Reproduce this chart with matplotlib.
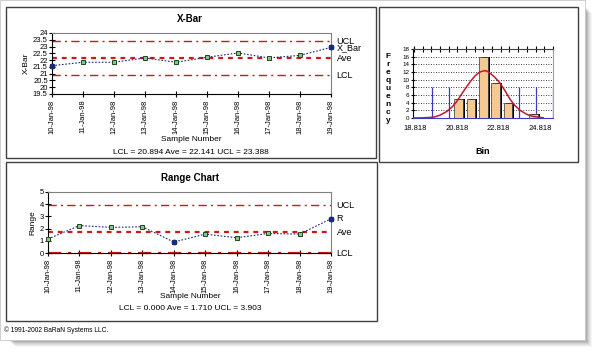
import numpy as np
import matplotlib
matplotlib.use("Agg")
from matplotlib import pyplot as plt
from matplotlib.patches import Rectangle
from matplotlib.ticker import FuncFormatter, MultipleLocator

plt.rcParams["font.family"] = ["Liberation Sans", "DejaVu Sans"]

# ---- data ----
dates = ["10-Jan-98", "11-Jan-98", "12-Jan-98", "13-Jan-98", "14-Jan-98",
         "15-Jan-98", "16-Jan-98", "17-Jan-98", "18-Jan-98", "19-Jan-98"]
xbar = [21.59, 21.84, 21.84, 22.16, 21.84, 22.21, 22.53, 22.16, 22.35, 22.94]
xbar_lcl, xbar_ave, xbar_ucl = 20.894, 22.141, 23.388
rng = [1.15, 2.25, 2.1, 2.15, 0.9, 1.55, 1.25, 1.6, 1.55, 2.8]
r_lcl, r_ave, r_ucl = 0.0, 1.710, 3.903

bin_centers = [20.90, 21.51, 22.11, 22.68, 23.28, 24.51]
bin_counts = [5, 5, 16, 9, 4, 1]
bin_ticks = [18.818, 20.818, 22.818, 24.818]
spec_lines = [19.63, 20.45, 23.81, 24.63, 25.44]
curve_x = [18.72, 19.2, 19.7, 20.0, 20.34, 20.6, 20.82, 21.05, 21.3, 21.5, 21.7, 21.9,
           22.1, 22.25, 22.42, 22.65, 22.9, 23.15, 23.38, 23.6, 23.86, 24.2, 24.5, 24.97]
curve_y = [0, 0.05, 0.2, 0.7, 1.7, 2.9, 4.3, 6.2, 8.2, 9.7, 11.0, 11.9,
           12.3, 12.3, 11.7, 10.6, 9.1, 7.0, 4.9, 3.3, 2.0, 0.9, 0.4, 0.05]

W, H = 600, 360
RED = "#d01818"
NAVY = "#1a2a80"


def box(l, t, r, b):
    return [l / W, 1 - b / H, (r - l) / W, (b - t) / H]


def fx(px):
    return px / W


def fy(py):
    return 1 - py / H


fig = plt.figure(figsize=(6, 3.6), dpi=100)
fig.patch.set_facecolor("white")

# page shadow
for i, a in enumerate([0.10, 0.12, 0.15, 0.18, 0.22, 0.26]):
    d = 7 - i
    fig.patches.append(Rectangle((fx(8 + d), fy(340 + d)), (585 - 8) / W, (340 - 6) / H,
                                 transform=fig.transFigure, facecolor="black",
                                 alpha=a * 0.35, edgecolor="none", zorder=-3))
fig.patches.append(Rectangle((0, fy(340)), 585 / W, 340 / H, transform=fig.transFigure,
                             facecolor="white", edgecolor="#c8c8c8", lw=0.6, zorder=-2))

# panel frames
for l, t, r, b in [(6, 7, 376, 158), (379, 7, 578, 162), (6, 162, 377, 321)]:
    fig.patches.append(Rectangle((fx(l), fy(b)), (r - l) / W, (b - t) / H,
                                 transform=fig.transFigure, facecolor="none",
                                 edgecolor="#404040", lw=1.0, zorder=-1))


def control_chart(ax, vals, lcl, ave, ucl, ylim, ystep, ylabel, series_name):
    x = np.arange(len(vals))
    ax.axhline(ucl, color=RED, lw=1.0, ls=(0, (6, 3, 1.5, 3)), zorder=2)
    ax.axhline(lcl, color=RED, lw=1.0 if lcl > ylim[0] else 1.6,
               ls=(0, (6, 3, 1.5, 3)), zorder=2, clip_on=False)
    ax.axhline(ave, color=RED, lw=1.6, ls=(0, (2.2, 2.2)), zorder=2)
    ax.plot(x, vals, color=NAVY, lw=0.8, ls=(0, (1.5, 1.5)), zorder=3)
    ax.plot(x, vals, ls="none", marker="s", ms=3, mfc="#8fc08f", mec="#1c4a1c",
            mew=0.7, zorder=4, clip_on=False)
    ext = [int(np.argmin(vals)), int(np.argmax(vals))]
    ax.plot(x[ext], np.array(vals)[ext], ls="none", marker="o", ms=3.2,
            mfc=NAVY, mec=NAVY, zorder=5, clip_on=False)
    ax.set_xlim(0, len(vals) - 1)
    ax.set_ylim(*ylim)
    ax.yaxis.set_major_locator(MultipleLocator(ystep))
    ax.yaxis.set_major_formatter(FuncFormatter(lambda v, p: "%g" % v))
    ax.set_xticks(x)
    ax.set_xticklabels(dates, rotation=90, fontsize=5.5)
    ax.tick_params(axis="y", labelsize=5.5, pad=1, length=4, direction="inout")
    ax.tick_params(axis="x", length=5, direction="inout", pad=1.5)
    for s in ax.spines.values():
        s.set_color("#808080")
        s.set_linewidth(0.8)
    ax.spines["left"].set_color("black")
    ax.spines["bottom"].set_color("black")
    ax.set_ylabel(ylabel, fontsize=6, labelpad=2)
    tr = ax.get_yaxis_transform()
    ax.text(1.02, ucl, "UCL", transform=tr, fontsize=6.5, va="center")
    ax.text(1.02, vals[-1], series_name, transform=tr, fontsize=6.5, va="center")
    ax.text(1.02, ave, "Ave", transform=tr, fontsize=6.5, va="center")
    ax.text(1.02, lcl, "LCL", transform=tr, fontsize=6.5, va="center")


# X-Bar chart
ax1 = fig.add_axes(box(52, 33, 331, 94))
control_chart(ax1, xbar, xbar_lcl, xbar_ave, xbar_ucl, (19.5, 24), 0.5, "X-Bar", "X_Bar")
fig.text(fx(190), fy(19), "X-Bar", fontsize=7, fontweight="bold", ha="center", va="center")
fig.text(fx(191), fy(140), "Sample Number", fontsize=6, ha="center", va="center")
fig.text(fx(191), fy(152), "LCL = %.3f Ave = %.3f UCL = %.3f" % (xbar_lcl, xbar_ave, xbar_ucl),
         fontsize=6, ha="center", va="center")

# Range chart
ax2 = fig.add_axes(box(48, 192, 331, 253))
control_chart(ax2, rng, r_lcl, r_ave, r_ucl, (0, 5), 1, "Range", "R")
fig.text(fx(190), fy(178), "Range Chart", fontsize=7, fontweight="bold", ha="center", va="center")
fig.text(fx(190), fy(297), "Sample Number", fontsize=6, ha="center", va="center")
fig.text(fx(190), fy(309), "LCL = %.3f Ave = %.3f UCL = %.3f" % (r_lcl, r_ave, r_ucl),
         fontsize=6, ha="center", va="center")

# Histogram
ax3 = fig.add_axes(box(413, 49, 553, 118))
ax3.set_xlim(18.72, 25.44)
ax3.set_ylim(0, 18)
ax3.yaxis.set_major_locator(MultipleLocator(2))
for yv in np.arange(2, 19, 2):
    ax3.axhline(yv, color="black", lw=0.6, ls=(0, (1, 2)), zorder=1)
ax3.vlines(spec_lines, 0, 8, color="#3a3ac0", lw=0.9, zorder=2)
ax3.bar(np.array(bin_centers) + 0.1, bin_counts, width=0.4, color="black", zorder=3)
ax3.bar(bin_centers, bin_counts, width=0.4, color="#f6c892", edgecolor="#303030",
        lw=0.5, zorder=4)
ax3.plot(curve_x, curve_y, color="#c01830", lw=1.1, zorder=5)
ax3.set_xticks(bin_ticks)
ax3.xaxis.set_major_formatter(FuncFormatter(lambda v, p: "%.3f" % v))
ax3.xaxis.set_minor_locator(MultipleLocator(0.417))
ax3.tick_params(axis="x", which="major", labelsize=5.5, length=0, pad=5)
ax3.tick_params(axis="x", which="minor", top=True, bottom=False, length=4,
                direction="inout", width=0.8)
ax3.tick_params(axis="y", labelsize=4.5, length=3, pad=1, direction="inout")
for s in ax3.spines.values():
    s.set_linewidth(0.8)
ax3.spines["bottom"].set_color("#3a3ac0")
ax3.spines["right"].set_color("#a0a0a0")
ax3.spines["top"].set_color("#404040")
fig.text(fx(388), fy(89), "\n".join("Frequency"), fontsize=6, fontweight="bold",
         ha="center", va="center", linespacing=1.2)
fig.text(fx(483), fy(151), "Bin", fontsize=6.5, fontweight="bold", ha="center", va="center")

fig.text(fx(4), fy(330), "\u00a9 1991-2002 BaRaN Systems LLC.", fontsize=4.8,
         ha="left", va="center")

fig.savefig("out.png", dpi=100)
